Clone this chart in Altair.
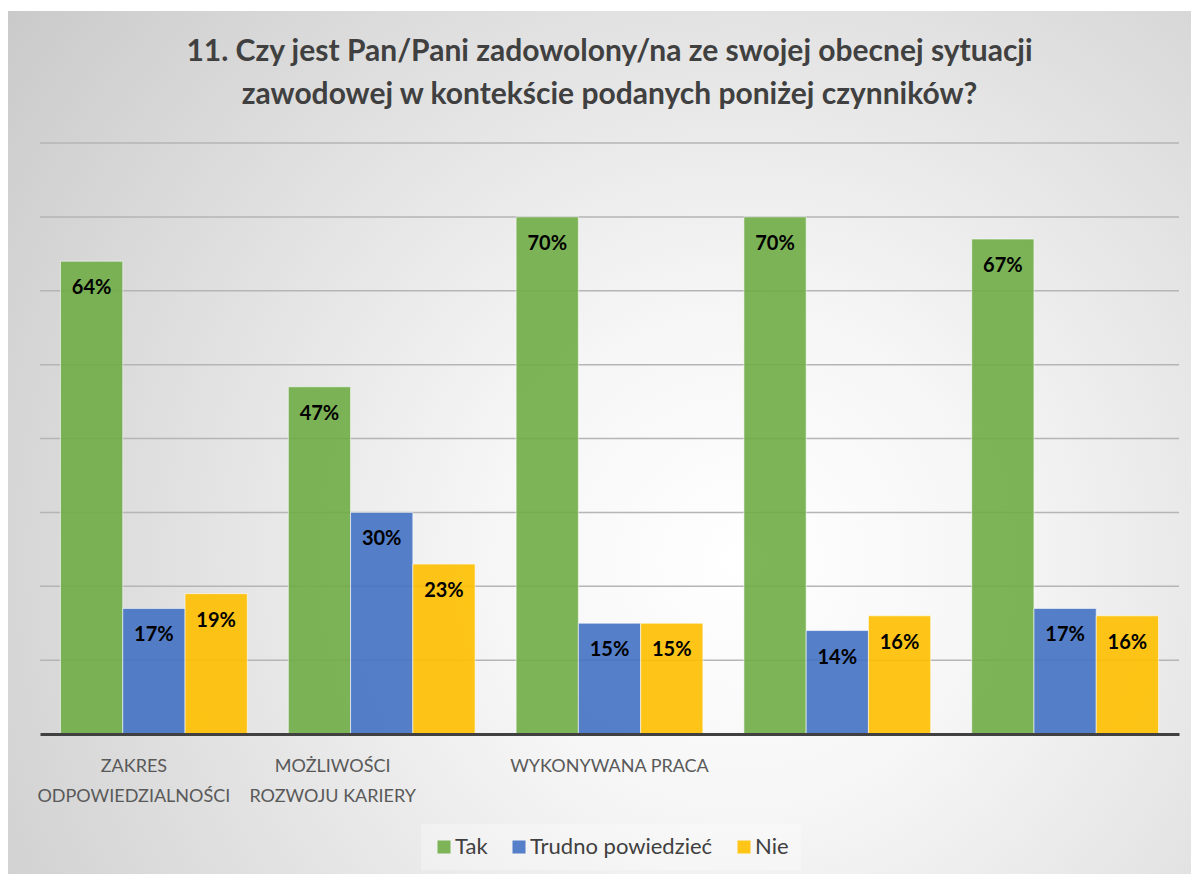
import altair as alt
import pandas as pd

# ---- data ----
categories = ["ZAKRES ODPOWIEDZIALNOŚCI", "MOŻLIWOŚCI ROZWOJU KARIERY", "WYKONYWANA PRACA", " ", "  "]
category_lines = [["ZAKRES", "ODPOWIEDZIALNOŚCI"], ["MOŻLIWOŚCI", "ROZWOJU KARIERY"], ["WYKONYWANA PRACA"], [""], [""]]
series = ["Tak", "Trudno powiedzieć", "Nie"]
tak = [64, 47, 70, 70, 67]
trudno = [17, 30, 15, 14, 17]
nie = [19, 23, 15, 16, 16]
grid_values = [10, 20, 30, 40, 50, 60, 70, 80]
title_lines = ["11. Czy jest Pan/Pani zadowolony/na ze swojej obecnej sytuacji",
               "zawodowej w kontekście podanych poniżej czynników?"]
colors = ["#70AD47", "#4472C4", "#FFC000"]

rows = []
for s, vals in zip(series, [tak, trudno, nie]):
    for c, v in zip(categories, vals):
        rows.append({"category": c, "series": s, "value": v})
df = pd.DataFrame(rows)
grid_df = pd.DataFrame({"g": grid_values})

W, H = 1139, 591
PL, PR, PT, PB = 32, 12, 135, 140
FONT = "Lato"

# label expression for multi-line category labels
expr = "''"
for c, lines in reversed(list(zip(categories, category_lines))):
    arr = "[" + ",".join("'" + l + "'" for l in lines) + "]"
    expr = f"datum.value === '{c}' ? {arr} : ({expr})"

x_enc = alt.X(
    "category:N",
    sort=categories,
    scale=alt.Scale(domain=categories, paddingInner=0.18, paddingOuter=0.09),
    axis=alt.Axis(
        title=None,
        labelExpr=expr,
        labelAngle=0,
        labelFont=FONT,
        labelFontSize=18,
        labelColor="#595959",
        labelLineHeight=30,
        labelPadding=23,
        labelBaseline="top",
        labelLimit=400,
        ticks=False,
        tickSize=0,
        domainColor="#404040",
        domainWidth=3,
        grid=False,
        zindex=1,
        labelOffset={
            "condition": [
                {"test": f"datum.value === '{categories[0]}'", "value": -20},
                {"test": f"datum.value === '{categories[1]}'", "value": -49},
            ],
            "value": 0,
        },
    ),
)
y_scale = alt.Scale(domain=[0, 80], nice=False)
xo = alt.XOffset("series:N", sort=series, scale=alt.Scale(domain=series, paddingInner=0, paddingOuter=0))

bg = alt.Chart(alt.Data(values=[{}])).mark_rect(
    color=alt.RadialGradient(
        gradient="radial",
        x1=0.62, y1=0.6, r1=0,
        x2=0.62, y2=0.6, r2=0.85,
        stops=[
            alt.GradientStop(color="#ffffff", offset=0),
            alt.GradientStop(color="#f6f6f6", offset=0.25),
            alt.GradientStop(color="#c4c4c4", offset=1),
        ],
    )
).encode(
    x=alt.value(-PL), x2=alt.value(W + PR),
    y=alt.value(3 - PT), y2=alt.value(H + PB),
)

grid = alt.Chart(grid_df).mark_rule(color="#b5b5b5", strokeWidth=1.5).encode(
    y=alt.Y("g:Q", scale=y_scale, axis=None)
)

bars = alt.Chart(df).mark_bar(opacity=0.9, stroke="#ffffff", strokeWidth=1, strokeOpacity=0.6).encode(
    x=x_enc,
    xOffset=xo,
    y=alt.Y("value:Q", scale=y_scale, axis=None),
    color=alt.Color(
        "series:N",
        sort=series,
        scale=alt.Scale(domain=series, range=colors),
        legend=alt.Legend(
            title=None,
            orient="none",
            direction="horizontal",
            legendX=381,
            legendY=681,
            padding=12,
            fillColor="rgba(255,255,255,0.3)",
            symbolType="square",
            symbolSize=169,
            symbolStrokeWidth=0,
            symbolOpacity=0.9,
            labelFont=FONT,
            labelFontSize=22,
            labelColor="#404040",
            labelOffset=0,
            labelLimit=400,
            columnPadding=20,
        ),
    ),
)

labels = alt.Chart(df).transform_calculate(
    label="datum.value + '%'"
).mark_text(
    font=FONT, fontSize=20, fontWeight="bold", color="#000000", baseline="middle", dy=27
).encode(
    x=alt.X("category:N", sort=categories, scale=alt.Scale(domain=categories, paddingInner=0.18, paddingOuter=0.09)),
    xOffset=xo,
    y=alt.Y("value:Q", scale=y_scale),
    text="label:N",
)

chart = alt.layer(bg, grid, bars, labels).properties(
    width=W,
    height=H,
    padding={"left": PL, "right": PR, "top": PT, "bottom": PB},
    autosize=alt.AutoSizeParams(type="none"),
    background="#ffffff",
    title=alt.TitleParams(
        text=title_lines,
        font=FONT,
        fontSize=30,
        fontWeight="bold",
        color="#404040",
        anchor="middle",
        frame="group",
        lineHeight=43,
        offset=0,
        dy=99,
    ),
).configure_view(stroke=None)

chart.save("out.html", embed_options={"renderer": "svg", "actions": False})
